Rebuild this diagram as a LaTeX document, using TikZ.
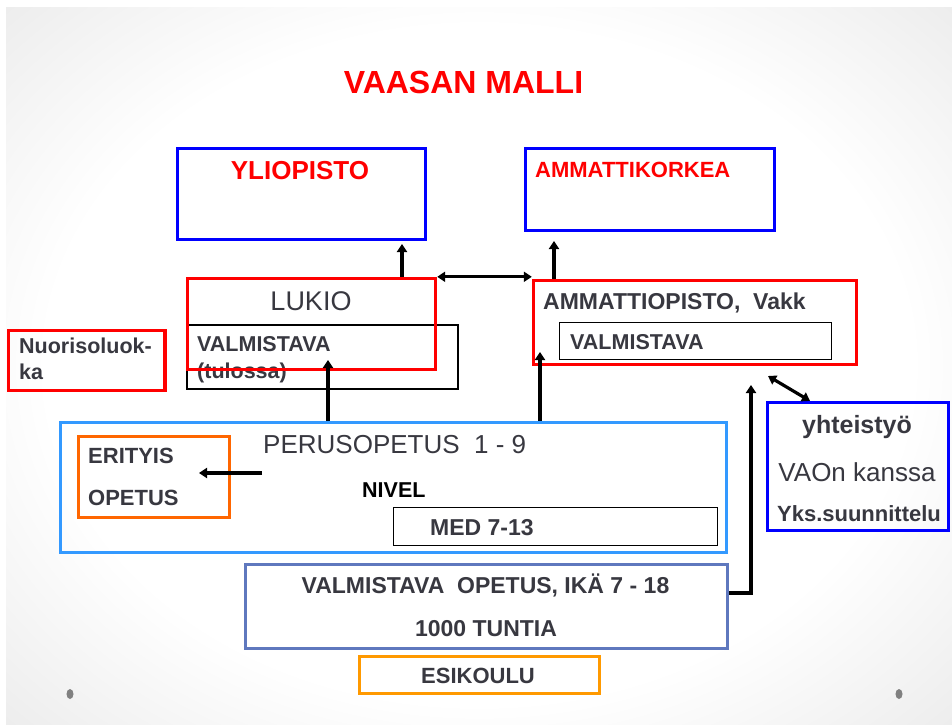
\documentclass[tikz,border=0pt]{standalone}
\usepackage{fontspec}
\setmainfont{Liberation Sans}
\usetikzlibrary{arrows.meta,calc}
\definecolor{txt}{RGB}{56,56,64}
\definecolor{myblue}{RGB}{0,0,255}
\definecolor{myred}{RGB}{255,0,0}
\definecolor{lblue}{RGB}{51,153,255}
\definecolor{orng}{RGB}{255,102,0}
\definecolor{orngb}{RGB}{255,153,0}
\definecolor{slate}{RGB}{95,120,190}
\definecolor{dotgray}{RGB}{128,128,128}
\pgfdeclareradialshading{bgshade}{\pgfpoint{0bp}{0bp}}{color(0bp)=(white); color(18bp)=(white); color(50bp)=(black!24)}
\newcommand\myfs[1]{\fontsize{#1}{#1}\selectfont}
\begin{document}
\begin{tikzpicture}[x=1pt,y=-1pt,
 box/.style={draw, rectangle, inner sep=0pt},
 bluebox/.style={box, draw=myblue, line width=3.2},
 redbox/.style={box, draw=myred, line width=3.4},
 blackbox/.style={box, draw=black, line width=1.6},
 lbox/.style={box, draw=lblue, line width=3},
 obox/.style={box, draw=orng, line width=3},
 oboxb/.style={box, draw=orngb, line width=3},
 sbox/.style={box, draw=slate, line width=3},
 lbl/.style={inner sep=0pt, text=txt},
 arr/.style={line width=3.2, line join=miter, -{Triangle[length=8pt,width=10pt]}},
 darr/.style={line width=3.2, {Triangle[length=8pt,width=10pt]}-{Triangle[length=8pt,width=10pt]}},
]
% background
\fill[white] (0,0) rectangle (952,724);
\begin{scope}
\clip (6,7) rectangle (952,724);
\shade[shading=bgshade] (-121,-105) rectangle (1079,835);
\end{scope}
\useasboundingbox (0,0) rectangle (952,724);
\fill[dotgray] (70,694) ellipse (3.5 and 5);
\fill[dotgray] (899,694) ellipse (3.5 and 5);

% boxes
\node[bluebox, minimum width=248, minimum height=91] (yl) at (301.5,194) {};
\node[bluebox, minimum width=249, minimum height=82] (ak) at (650,189.5) {};
\node[blackbox, minimum width=271, minimum height=64] (valma) at (322.5,357) {};
\node[redbox, minimum width=156.5, minimum height=60] (nuor) at (86.75,360.5) {};
\node[blackbox, minimum width=272, minimum height=37] (valmb) at (695.5,341) {};
\node[lbox, minimum width=666, minimum height=130] (perus) at (393.5,487.5) {};
\node[obox, minimum width=151, minimum height=81] (erit) at (154,477) {};
\node[blackbox, minimum width=324, minimum height=38] (med) at (555.5,526.5) {};
\node[sbox, minimum width=482, minimum height=84] (vop) at (486.5,606.5) {};
\node[oboxb, minimum width=240, minimum height=37] (esik) at (479.5,675) {};
\node[bluebox, minimum width=181, minimum height=128] (yht) at (858,466.5) {};

% texts
\node[lbl, text=myred, font=\myfs{32}\bfseries, anchor=base] (title) at (463.5,93) {VAASAN MALLI};
\node[lbl, text=myred, font=\myfs{26}\bfseries, anchor=base] (tyl) at (300,179) {YLIOPISTO};
\node[lbl, text=myred, font=\myfs{22}\bfseries, anchor=base west] (tak) at (535,177) {AMMATTIKORKEA};
\node[lbl, font=\myfs{27}, anchor=base] (tlukio) at (311,310) {LUKIO};
\node[lbl, font=\myfs{21.5}\bfseries, anchor=base west] (tvalma) at (197,351) {VALMISTAVA};
\node[lbl, font=\myfs{21.5}\bfseries, anchor=base west] (ttul) at (197,378.5) {(tulossa)};
\node[lbl, font=\myfs{21.5}\bfseries, anchor=base west] (tnuora) at (19,353) {Nuorisoluok-};
\node[lbl, font=\myfs{21.5}\bfseries, anchor=base west] (tnuorb) at (19,379) {ka};
\node[lbl, font=\myfs{23}\bfseries, anchor=base west] (tamop) at (543,309) {AMMATTIOPISTO,\ \ Vakk};
\node[lbl, font=\myfs{21.5}\bfseries, anchor=base west] (tvalmb) at (570,349) {VALMISTAVA};
\node[lbl, font=\myfs{26}, anchor=base west] (tperus) at (263,453) {PERUSOPETUS\ \ 1 - 9};
\node[lbl, font=\myfs{22}\bfseries, anchor=base west] (terita) at (88,463) {ERITYIS};
\node[lbl, font=\myfs{22}\bfseries, anchor=base west] (teritb) at (88,505) {OPETUS};
\node[lbl, text=black, font=\myfs{21.5}\bfseries, anchor=base west] (tnivel) at (362,497) {NIVEL};
\node[lbl, font=\myfs{23}\bfseries, anchor=base west] (tmed) at (430,535) {MED 7-13};
\node[lbl, font=\myfs{23}\bfseries, anchor=base] (tvopa) at (485.5,593) {VALMISTAVA\ \ OPETUS, IKÄ 7 - 18};
\node[lbl, font=\myfs{23}\bfseries, anchor=base] (tvopb) at (486,636) {1000 TUNTIA};
\node[lbl, font=\myfs{22}\bfseries, anchor=base] (tesik) at (478,683) {ESIKOULU};
\node[lbl, font=\myfs{25}\bfseries, anchor=base] (tyhta) at (857,433) {yhteistyö};
\node[lbl, font=\myfs{26}, anchor=base] (tyhtb) at (857,481) {VAOn kanssa};
\node[lbl, font=\myfs{22}\bfseries, anchor=base] (tyhtc) at (859,521) {Yks.suunnittelu};

% red boxes on top
\node[redbox, minimum width=248, minimum height=91] (lukio) at (311.5,324) {};
\node[redbox, minimum width=323, minimum height=84] (amop) at (695,322.5) {};

% connectors
\coordinate (t1) at (402,244);
\draw[arr] (lukio.north -| t1) -- (t1);
\draw[darr] (lukio.north east) -- (lukio.north east -| amop.west);
\coordinate (t2) at (554,241);
\draw[arr] (amop.north -| t2) -- (t2);
\coordinate (t3) at (328,360);
\draw[arr] (perus.north -| t3) -- (t3);
\coordinate (t4) at (540,352);
\draw[arr] (perus.north -| t4) -- (t4);
\coordinate (t5) at (751,385);
\draw[arr] ($(vop.north east)!0.345!(vop.south east)$) -| (t5);
\coordinate (t6) at (768,376);
\coordinate (t6b) at (810,401);
\draw[darr] (t6) -- (yht.north -| t6b);
\coordinate (t7) at (262,473);
\coordinate (t7b) at (199,473);
\draw[arr] (t7) -- (t7b);
\end{tikzpicture}
\end{document}
